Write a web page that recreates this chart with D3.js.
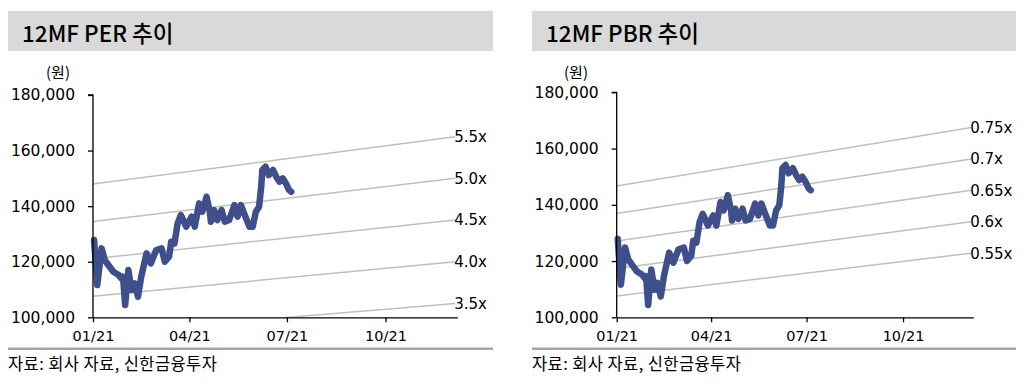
<!DOCTYPE html>
<html>
<head>
<meta charset="utf-8">
<script src="https://cdn.jsdelivr.net/npm/d3@7"></script>
<style>
  html, body { margin: 0; padding: 0; background: #fff; }
  svg { display: block; }
</style>
</head>
<body>
<svg id="chart" width="1023" height="385"></svg>
<script>
// ---------- DATA ----------
const priceDates = [
  "2021-01-02","2021-01-05","2021-01-09","2021-01-12","2021-01-15","2021-01-20","2021-01-25","2021-01-28",
  "2021-01-29","2021-01-31","2021-02-03","2021-02-06","2021-02-09","2021-02-12","2021-02-15","2021-02-20",
  "2021-02-24","2021-03-01","2021-03-06","2021-03-09","2021-03-13","2021-03-15","2021-03-18","2021-03-21",
  "2021-03-24","2021-03-29","2021-04-03","2021-04-06","2021-04-10","2021-04-13","2021-04-17","2021-04-20",
  "2021-04-21","2021-04-24","2021-04-27","2021-05-01","2021-05-04","2021-05-08","2021-05-13","2021-05-16",
  "2021-05-19","2021-05-22","2021-05-27","2021-05-30","2021-06-02","2021-06-05","2021-06-07","2021-06-08",
  "2021-06-11","2021-06-14","2021-06-18","2021-06-21","2021-06-24","2021-06-27","2021-06-30","2021-07-03",
  "2021-07-05"
];
const priceValues = [
  127800,111600,124800,120600,119000,116400,115200,113800,
  114600,104400,117000,109800,112200,107400,114600,123000,
  119400,124200,124800,120000,121800,127200,126600,133800,
  136800,132600,136200,132600,141000,138000,143400,138000,
  134400,138600,135000,138600,134400,135000,140400,136200,
  140400,137400,132600,132600,138000,139800,147000,153000,
  154200,151200,153000,150600,148800,150000,148200,145800,
  145200
];

const bandDates = ["2021-01-01", "2021-12-05"];
const epsValues = [26900, 30000];      // 12MF EPS (start, end)
const perMultiples = [3.5, 4.0, 4.5, 5.0, 5.5];
const perLabels = ["3.5x", "4.0x", "4.5x", "5.0x", "5.5x"];
const bpsValues = [195600, 223300];    // 12MF BPS (start, end)
const pbrMultiples = [0.55, 0.6, 0.65, 0.7, 0.75];
const pbrLabels = ["0.55x", "0.6x", "0.65x", "0.7x", "0.75x"];

const yTicks = [100000, 120000, 140000, 160000, 180000];
const xTickDates = ["2021-01-01", "2021-04-01", "2021-07-01", "2021-10-01"];
const xTickLabels = ["01/21", "04/21", "07/21", "10/21"];
const xDomain = ["2021-01-01", "2021-12-07"];

const titles = ["12MF PER 추이", "12MF PBR 추이"];
const unitLabel = "(원)";
const sourceText = "자료: 회사 자료, 신한금융투자";

// ---------- DRAW ----------
const parse = d3.timeParse("%Y-%m-%d");
const svg = d3.select("#chart");
const fmt = d3.format(",");
const kFont = "'Noto Sans CJK KR', 'Noto Sans', sans-serif";
const nFont = "'DejaVu Sans', Verdana, sans-serif";

const panels = [
  { title: titles[0], band: [8, 493], x0: 93, x1: 457.3, yTop: 95, yBot: 317.3,
    base: epsValues, mult: perMultiples, labels: perLabels, unitX: 58 },
  { title: titles[1], band: [532, 1016], x0: 616.7, x1: 973.3, yTop: 92.3, yBot: 317.3,
    base: bpsValues, mult: pbrMultiples, labels: pbrLabels, unitX: 576 }
];

const price = priceDates.map((d, i) => ({ date: parse(d), value: priceValues[i] }));

panels.forEach((p, pi) => {
  const g = svg.append("g");

  // title band
  g.append("rect").attr("x", p.band[0]).attr("y", 11)
    .attr("width", p.band[1] - p.band[0]).attr("height", 40).attr("fill", "#d9d9d9");
  g.append("text").attr("x", p.band[0] + 14).attr("y", 41.5)
    .attr("font-family", kFont).attr("font-size", 22.5).attr("font-weight", 500)
    .attr("fill", "#000").text(p.title);

  // footer rule + source
  g.append("line").attr("x1", p.band[0]).attr("x2", p.band[1])
    .attr("y1", 348.7).attr("y2", 348.7).attr("stroke", "#a6a6a6").attr("stroke-width", 2.5);
  g.append("text").attr("x", p.band[0]).attr("y", 370)
    .attr("font-family", kFont).attr("font-size", 16.5).attr("letter-spacing", 0.4)
    .attr("fill", "#000").text(sourceText);

  const x = d3.scaleTime().domain(xDomain.map(parse)).range([p.x0, p.x1]);
  const y = d3.scaleLinear().domain([yTicks[0], yTicks[yTicks.length - 1]]).range([p.yBot, p.yTop]);

  // clip
  const clipId = "clip" + pi;
  svg.append("defs").append("clipPath").attr("id", clipId)
    .append("rect").attr("x", p.x0).attr("y", p.yTop - 2)
    .attr("width", p.x1 - p.x0 + 40).attr("height", p.yBot - p.yTop + 2);

  // band lines
  const bandG = g.append("g");
  const bd = bandDates.map(parse);
  p.mult.forEach((m, i) => {
    const pts = bd.map((d, j) => ({ date: d, value: p.base[j] * m }));
    bandG.append("path").datum(pts)
      .attr("clip-path", `url(#${clipId})`)
      .attr("fill", "none").attr("stroke", "#bfbfbf").attr("stroke-width", 1.5)
      .attr("d", d3.line().x(d => x(d.date)).y(d => y(d.value)));
    const last = pts[pts.length - 1];
    bandG.append("text").attr("x", x(last.date) - 1).attr("y", y(last.value))
      .attr("dy", "0.36em")
      .attr("font-family", nFont).attr("font-size", 15).attr("fill", "#000")
      .text(p.labels[i]);
  });

  // price line
  g.append("path").datum(price)
    .attr("fill", "none").attr("stroke", "#3f4f8c").attr("stroke-width", 6.5)
    .attr("stroke-linejoin", "round").attr("stroke-linecap", "round")
    .attr("d", d3.line().x(d => x(d.date)).y(d => y(d.value)));

  // y axis
  const ya = g.append("g").attr("transform", `translate(${p.x0},0)`)
    .call(d3.axisLeft(y).tickValues(yTicks).tickFormat(fmt).tickSize(5).tickPadding(13));
  ya.select(".domain").attr("stroke", "#000").attr("stroke-width", 1.3).attr("d", `M-5,${p.yTop}H0V${p.yBot}`);
  ya.selectAll(".tick line").attr("stroke", "#000").attr("stroke-width", 1.3);
  ya.selectAll(".tick text").attr("font-family", nFont).attr("font-size", 15.5).attr("fill", "#000");

  // x axis
  const xa = g.append("g").attr("transform", `translate(0,${p.yBot})`)
    .call(d3.axisBottom(x).tickValues(xTickDates.map(parse))
      .tickFormat((d, i) => xTickLabels[i]).tickSize(5).tickSizeOuter(0).tickPadding(8));
  xa.select(".domain").attr("stroke", "#000").attr("stroke-width", 1.3);
  xa.selectAll(".tick line").attr("stroke", "#000").attr("stroke-width", 1.3);
  xa.selectAll(".tick text").attr("font-family", nFont).attr("font-size", 14.5).attr("fill", "#000");

  // unit label
  g.append("text").attr("x", p.unitX).attr("y", 73).attr("dy", "0.36em")
    .attr("text-anchor", "middle").attr("font-family", kFont).attr("font-size", 15)
    .attr("fill", "#000").text(unitLabel);
});
</script>
</body>
</html>
